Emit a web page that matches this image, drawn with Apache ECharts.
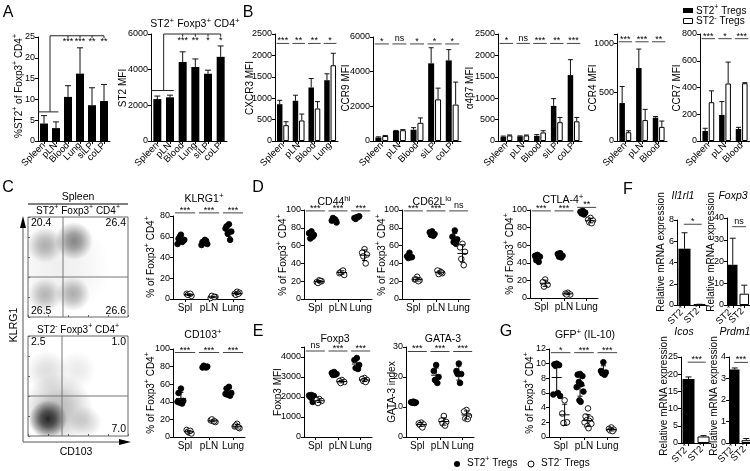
<!DOCTYPE html>
<html><head><meta charset="utf-8">
<script src="https://cdn.jsdelivr.net/npm/echarts@6/dist/echarts.min.js"></script>
<style>html,body{margin:0;padding:0;background:#fff}#c{width:750px;height:471px}</style>
</head><body><div id="c"></div>
<script>
// ================= DATA =================
// Panel A
const aCats = ['Spleen','pLN','Blood','Lung','siLP','coLP'];
const aPctMean = [4.2,3.1,10.6,16.2,8.6,9.6];
const aPctSD   = [1.9,1.5,2.7,6.2,4.2,4.0];
const aPctStars = ['***','***','**','**'];
const aMfiMean = [2350,2450,4430,4150,3770,4720];
const aMfiSD   = [170,120,570,450,200,610];
const aMfiStars = ['***','**','*','*'];
// Panel B
const cxcr3Cats = ['Spleen','pLN','Blood','Lung'];
const cxcr3Pos = [860,940,1250,1420], cxcr3PosSD = [90,130,210,150];
const cxcr3Neg = [370,480,760,1770], cxcr3NegSD = [80,150,160,280];
const cxcr3Stars = ['***','**','**','*'];
const ccr9Cats = ['Spleen','pLN','Blood','siLP','coLP'];
const ccr9Pos = [200,580,650,4480,4650], ccr9PosSD = [40,30,120,900,620];
const ccr9Neg = [290,620,1050,2400,2100], ccr9NegSD = [30,40,280,650,1300];
const ccr9Stars = ['*','ns','*','*','*'];
const a4b7Cats = ['Spleen','pLN','Blood','siLP','coLP'];
const a4b7Pos = [100,110,120,820,1540], a4b7PosSD = [15,10,30,170,360];
const a4b7Neg = [130,130,200,440,460], a4b7NegSD = [10,10,40,110,90];
const a4b7Stars = ['*','ns','***','**','***'];
const ccr4Cats = ['Spleen','pLN','Blood'];
const ccr4Pos = [390,750,240], ccr4PosSD = [170,195,12];
const ccr4Neg = [90,215,145], ccr4NegSD = [15,110,60];
const ccr4Stars = ['***','***','**'];
const ccr7Cats = ['Spleen','pLN','Blood'];
const ccr7Pos = [75,195,90], ccr7PosSD = [20,100,12];
const ccr7Neg = [290,430,432], ccr7NegSD = [85,160,4];
const ccr7Stars = ['***','*','***'];
// Panel C flow density clusters [x%, y%, spread%, density]
const flowTopClusters = [[32,50,100,0.07],[17,72,36,0.32],[46,76,38,0.5],[17,22,34,0.3],[45,23,34,0.33]];
const flowBotClusters = [[30,27,70,0.3],[20,17,38,0.9],[19,65,42,0.14],[49,66,38,0.09],[58,14,32,0.18]];
const flowTopGate = [35,40], flowBotGate = [34,40];
const flowTopPct = ['20.4','26.4','26.5','26.6'];
const flowBotPct = ['2.5','1.0','7.0'];
// Dot plots (ST2+ filled, ST2- open), per category Spl, pLN, Lung
const dotCats = ['Spl','pLN','Lung'];
const klrgPos = [[62,58,56,60,55,53,57],[57,55,53,54,56,52],[72,70,65,63,57,68]];
const klrgNeg = [[4,5,3,4,5],[2,1,2,3,2],[7,5,6,4,5]];
const cd103Pos = [[55,50,41,39,38,40],[80,79,80,81,79],[57,55,50,48,47,49]];
const cd103Neg = [[5,8,4,6,7],[18,19,17,20,18],[15,12,10,13,11]];
const cd44Pos = [[76,74,72,68,70],[90,88,86,91,89],[92,91,93,90,92]];
const cd44Neg = [[21,19,20,18,20],[31,29,27,30,32],[56,52,50,48,40]];
const cd62Pos = [[52,48,47,46,47],[76,75,73,72,71],[77,70,67,64,62]];
const cd62Neg = [[25,22,21,22,20],[31,32,29,28,30],[62,58,53,45,38]];
const ctlaPos = [[49,48,47,43,41],[51,50,48,47,46],[99,98,97,96,95]];
const ctlaNeg = [[21,18,15,13],[6,5,4,4],[91,89,88,86,85]];
const foxpPos = [[2100,2080,2050,2000,1750],[3250,3200,3150,3100,3120],[3950,3850,3600,3450,3400]];
const foxpNeg = [[1900,1850,1800,1700],[2850,2800,2750,2700],[2950,2900,2850,2800,2750]];
const gataPos = [[11.8,11.6,11.5,11.4,11.3],[24,22,20,19,18],[24.5,22,21,21,18]];
const gataNeg = [[4.8,4.5,4.2,4.0,3.2],[7,5.5,5,4.5,3.8],[9,8.5,7,6.2,6]];
const gfpPos = [[10.0,9.9,9.8,9.7,6.0,5.8,5.6],[8.6,8.5,8.3,7.5,7.2,6.8,6.2,5.0,4.8],[10.2,9.0,8.8,8.7,8.5]];
const gfpNeg = [[5.0,3.2,2.0,1.9],[3.9,2.8,2.5,2.3,2.2,2.0,1.8,1.5,1.2],[1.3,1.1,1.0,0.9,0.8]];
const klrgStars=['***','***','***'], cd103Stars=['***','***','***'], cd44Stars=['***','***','***'],
      cd62Stars=['***','***','ns'], ctlaStars=['***','***','**'], foxpStars=['ns','***','***'],
      gataStars=['***','***','***'], gfpStars=['*','***','***'];
// Panel F
const fCats = ['ST2^+','ST2^-'];
const il1rl1Mean = [5.3,0.05], il1rl1SD = [1.5,0.02];
const foxp3FMean = [18.5,5.2], foxp3FSD = [12.2,3.9];
const icosMean = [18.6,1.9], icosSD = [0.6,0.25];
const prdm1Mean = [3.42,0.13], prdm1SD = [0.07,0.08];

// ================= HELPERS =================
const FONT = '"Liberation Sans", Arial, Helvetica, sans-serif';
const grids=[], xAxes=[], yAxes=[], series=[], graphic=[];
function richFor(s){ return {sup:{fontSize:Math.round(s*0.72), fontFamily:FONT, color:'#000', padding:[0,0,Math.round(s*0.7),0]}}; }
function sup(s){ return String(s).replace(/\^([^\s]+)/g, '{sup|$1}'); }
function txt(x,y,s,o={}){
  const size=o.size||10;
  graphic.push({type:'text', x, y, rotation:o.rot||0, silent:true, z:50,
    style:{text:sup(s), fill:'#000', font:`${o.italic?'italic ':''}${size}px ${FONT}`,
      textAlign:o.align||'center', textVerticalAlign:o.va||'middle', rich:richFor(size)}});
}
function gline(x1,y1,x2,y2,c){ graphic.push({type:'line', silent:true, z:50, shape:{x1,y1,x2,y2}, style:{stroke:c||'#000', lineWidth:1}}); }
function addGrid(L,T,W,H){ grids.push({left:L, top:T, width:W, height:H, containLabel:false, outerBoundsMode:'none'}); return grids.length-1; }
function catAxis(gi,cats,rot,fs){
  return {type:'category', gridIndex:gi, data:cats, boundaryGap:true,
    axisLine:{show:true, lineStyle:{color:'#000', width:1}},
    axisTick:{show:true, alignWithLabel:true, length:3, lineStyle:{color:'#000'}},
    axisLabel:{interval:0, rotate:rot, fontSize:fs||9.5, fontFamily:FONT, color:'#000', margin:rot?3:4,
      formatter:v=>sup(v), rich:richFor(fs||9.5)}, splitLine:{show:false}};
}
function valAxis(gi,p){
  const iv=p.interval;
  return {type:'value', gridIndex:gi, min:p.min||0, max:p.max, interval:iv,
    axisLine:{show:true, lineStyle:{color:'#000', width:1}},
    axisTick:{show:true, length:3, lineStyle:{color:'#000'}},
    axisLabel:{fontSize:9, fontFamily:FONT, color:'#000', margin:3,
      formatter:v=>(Math.abs(v/iv-Math.round(v/iv))<1e-6 ? String(v) : '')},
    splitLine:{show:false}};
}
const base = {silent:true, animation:false};
function barPanel(p){
  const gi=addGrid(p.left,p.top,p.width,p.bottom-p.top);
  xAxes.push(catAxis(gi,p.cats,45,p.labelSize));
  yAxes.push(valAxis(gi,p));
  const n=p.groups.length, bw=p.barWidth, gap=p.gap||0.15;
  p.groups.forEach((g,k)=>{
    const data = g.fills ? g.mean.map((v,i)=>({value:v, itemStyle:{color:g.fills[i], borderColor:'#000', borderWidth:g.fills[i]==='#000'?0:1}})) : g.mean;
    series.push({...base, type:'bar', xAxisIndex:gi, yAxisIndex:gi, data, barWidth:bw, barGap:(gap*100)+'%',
      itemStyle:{color:g.fill||'#000', borderColor:'#000', borderWidth:g.fill==='#fff'?1:0}, z:2});
  });
  p.groups.forEach((g,k)=>{
    const off = n===1?0:(k===0?-1:1)*bw*(1+gap)/2;
    const cap = p.cap||2.5;
    series.push({...base, type:'custom', xAxisIndex:gi, yAxisIndex:gi, z:3,
      data:g.mean.map((m,i)=>[i,m,m+g.sd[i]]), encode:{x:0,y:[1,2]},
      renderItem:(params,api)=>{
        const t=api.coord([api.value(0),api.value(2)]), b=api.coord([api.value(0),api.value(1)]);
        const x=t[0]+off;
        return {type:'group', children:[
          {type:'line', shape:{x1:x,y1:b[1],x2:x,y2:t[1]}, style:{stroke:'#111',lineWidth:1}},
          {type:'line', shape:{x1:x-cap,y1:t[1],x2:x+cap,y2:t[1]}, style:{stroke:'#111',lineWidth:1}}]};
      }});
  });
  if(p.stars) annot(gi, p.stars.map((s,i)=>({pair:i, y:p.sigY, s, half:p.sigHalf||0.4})));
  if(p.bracket) annot(gi, p.bracket);
  return gi;
}
// annotation renderer in (category units, value) coordinates
function annot(gi, items){
  series.push({...base, type:'custom', xAxisIndex:gi, yAxisIndex:gi, z:6, clip:false,
    data:[[0,0]], encode:{x:0,y:1},
    renderItem:(params,api)=>{
      const band=api.size([1,0])[0];
      const X=(u)=>api.coord([0,0])[0]+u*band;
      const Y=(v)=>api.coord([0,v])[1];
      const ch=[];
      items.forEach(it=>{
        if(it.pair!==undefined){
          const yy=Y(Array.isArray(it.y)?it.y[it.pair]:it.y);
          const cx = it.center!==undefined ? it.center : it.pair;
          ch.push({type:'line', shape:{x1:X(cx-it.half),y1:yy,x2:X(cx+it.half),y2:yy}, style:{stroke:'#444',lineWidth:1}});
          const isNs = it.s==='ns';
          ch.push({type:'text', x:X(cx), y: isNs? yy-0.5 : yy+2, style:{text:it.s, fill:'#000', font:`9px ${FONT}`, textAlign:'center', textVerticalAlign:'bottom'}});
        } else if(it.t==='line'){
          ch.push({type:'line', shape:{x1:X(it.u1),y1:Y(it.v1),x2:X(it.u2),y2:Y(it.v2)}, style:{stroke:'#222',lineWidth:1}});
        } else if(it.t==='text'){
          ch.push({type:'text', x:X(it.u), y:Y(it.v), style:{text:it.s, fill:'#000', font:`9px ${FONT}`, textAlign:'center', textVerticalAlign:'middle'}});
        }
      });
      return {type:'group', children:ch};
    }});
}
const JIT=[0,-2.4,2.4,-1.2,1.2,-3.4,3.4,-0.6,0.6];
const SEP=0.17;
function dotPanel(p){
  const gi=addGrid(p.left,p.top,p.width,p.bottom-p.top);
  xAxes.push(catAxis(gi,dotCats,0,10));
  yAxes.push(valAxis(gi,p));
  const pts=[], stats=[];
  [p.pos,p.neg].forEach((grp,g)=>grp.forEach((arr,i)=>{
    arr.forEach((v,j)=>pts.push([i,v,g,j]));
    const m=arr.reduce((a,b)=>a+b,0)/arr.length;
    const sd=Math.sqrt(arr.reduce((a,b)=>a+(b-m)*(b-m),0)/(arr.length-1));
    stats.push([i,m,m-sd,m+sd,g]);
  }));
  series.push({...base, type:'custom', xAxisIndex:gi, yAxisIndex:gi, z:4, data:pts, encode:{x:0,y:1},
    renderItem:(params,api)=>{
      const c=api.coord([api.value(0),api.value(1)]), band=api.size([1,0])[0], g=api.value(2), j=api.value(3);
      const x=c[0]+(g?1:-1)*SEP*band+JIT[j%JIT.length];
      return {type:'circle', shape:{cx:x,cy:c[1],r:2.8}, style:{fill:g?'#fff':'#000', stroke:'#000', lineWidth:0.9}};
    }});
  series.push({...base, type:'custom', xAxisIndex:gi, yAxisIndex:gi, z:5, data:stats, encode:{x:0,y:[1,2,3]},
    renderItem:(params,api)=>{
      const band=api.size([1,0])[0], g=api.value(4);
      const m=api.coord([api.value(0),api.value(1)]), lo=api.coord([api.value(0),api.value(2)]), hi=api.coord([api.value(0),api.value(3)]);
      const x=m[0]+(g?1:-1)*SEP*band;
      const st={stroke:'#000',lineWidth:1};
      return {type:'group', children:[
        {type:'line', shape:{x1:x-5,y1:m[1],x2:x+5,y2:m[1]}, style:st},
        {type:'line', shape:{x1:x,y1:lo[1],x2:x,y2:hi[1]}, style:st},
        {type:'line', shape:{x1:x-2.5,y1:lo[1],x2:x+2.5,y2:lo[1]}, style:st},
        {type:'line', shape:{x1:x-2.5,y1:hi[1],x2:x+2.5,y2:hi[1]}, style:st}]};
    }});
  annot(gi, p.stars.map((s,i)=>({pair:i, y:p.sigY, s, half:0.42})));
}
function flowPanel(p){
  const gi=addGrid(p.left,p.top,p.width,p.height);
  grids[gi].show=true; grids[gi].borderColor='#666'; grids[gi].borderWidth=1; grids[gi].backgroundColor='#fff';
  const ax=()=>({type:'value', gridIndex:gi, min:0, max:100, interval:20, axisLine:{show:false},
    axisTick:{show:true, inside:true, length:2, lineStyle:{color:'#666'}}, axisLabel:{show:false}, splitLine:{show:false}});
  xAxes.push(ax()); yAxes.push(ax());
  series.push({...base, type:'custom', xAxisIndex:gi, yAxisIndex:gi, z:2, data:p.clusters, encode:{x:0,y:1},
    renderItem:(params,api)=>{
      const c=api.coord([api.value(0),api.value(1)]), r=api.size([api.value(2),0])[0]/2, a=api.value(3);
      const cs=params.coordSys;
      return {type:'circle', shape:{cx:c[0],cy:c[1],r},
        style:{fill:{type:'radial',x:0.5,y:0.5,r:0.5,colorStops:[
          {offset:0,color:`rgba(20,20,20,${a})`},{offset:0.4,color:`rgba(20,20,20,${a*0.75})`},{offset:1,color:'rgba(20,20,20,0)'}]}},
        clipPath:{type:'rect', shape:{x:cs.x,y:cs.y,width:cs.width,height:cs.height}}};
    }});
  series.push({...base, type:'custom', xAxisIndex:gi, yAxisIndex:gi, z:3, data:[p.gate], encode:{x:0,y:1},
    renderItem:(params,api)=>{
      const c=api.coord([api.value(0),api.value(1)]), cs=params.coordSys;
      const st={stroke:'#777',lineWidth:1};
      return {type:'group', children:[
        {type:'line', shape:{x1:c[0],y1:cs.y,x2:c[0],y2:cs.y+cs.height}, style:st},
        {type:'line', shape:{x1:cs.x,y1:c[1],x2:cs.x+cs.width,y2:c[1]}, style:st}]};
    }});
}
function fPanel(p){
  barPanel({left:p.left, top:p.top, bottom:p.bottom, width:p.width, cats:fCats, min:0, max:p.max, interval:p.interval, barWidth:p.bw, cap:3, labelSize:9.5,
    groups:[{mean:p.mean, sd:p.sd, fills:['#000','#fff']}],
    bracket:[{pair:0, center:0.55, half:0.6, y:p.sigY, s:p.star}]});
}

// ================= PANELS =================
// A
barPanel({left:38, top:37, bottom:141, width:72, cats:aCats, min:0, max:25, interval:5, barWidth:8, cap:3,
  groups:[{mean:aPctMean, sd:aPctSD, fill:'#000'}],
  bracket:[{t:'line',u1:-0.5,v1:7,u2:1.2,v2:7},{t:'line',u1:0.5,v1:7,u2:0.5,v2:25.3},{t:'line',u1:0.5,v1:25.3,u2:5,v2:25.3},
    ...[2,3,4,5].map(i=>({t:'line',u1:i,v1:25.3,u2:i,v2:24.7})),
    ...aPctStars.map((s,k)=>({t:'text',u:k+2,v:23.8,s}))]});
barPanel({left:151, top:34, bottom:141, width:76, cats:aCats, min:0, max:6000, interval:2000, barWidth:8, cap:3,
  groups:[{mean:aMfiMean, sd:aMfiSD, fill:'#000'}],
  bracket:[{t:'line',u1:-0.5,v1:2830,u2:1.3,v2:2830},{t:'line',u1:0.5,v1:2830,u2:0.5,v2:6000},{t:'line',u1:0.5,v1:6000,u2:5,v2:6000},
    ...[2,3,4,5].map(i=>({t:'line',u1:i,v1:6000,u2:i,v2:5850})),
    ...aMfiStars.map((s,k)=>({t:'text',u:k+2,v:5620,s}))]});
// B
barPanel({left:275, top:34, bottom:141, width:63, cats:cxcr3Cats, min:0, max:2500, interval:500, barWidth:5.5,
  groups:[{mean:cxcr3Pos, sd:cxcr3PosSD, fill:'#000'},{mean:cxcr3Neg, sd:cxcr3NegSD, fill:'#fff'}], stars:cxcr3Stars, sigY:2280});
barPanel({left:373, top:37, bottom:141, width:88, cats:ccr9Cats, min:0, max:6000, interval:2000, barWidth:6,
  groups:[{mean:ccr9Pos, sd:ccr9PosSD, fill:'#000'},{mean:ccr9Neg, sd:ccr9NegSD, fill:'#fff'}], stars:ccr9Stars, sigY:5600});
barPanel({left:498, top:34, bottom:141, width:84, cats:a4b7Cats, min:0, max:2500, interval:500, barWidth:5.5,
  groups:[{mean:a4b7Pos, sd:a4b7PosSD, fill:'#000'},{mean:a4b7Neg, sd:a4b7NegSD, fill:'#fff'}], stars:a4b7Stars, sigY:2280});
barPanel({left:617, top:34, bottom:141, width:50, cats:ccr4Cats, min:0, max:1100, interval:500, barWidth:5.5,
  groups:[{mean:ccr4Pos, sd:ccr4PosSD, fill:'#000'},{mean:ccr4Neg, sd:ccr4NegSD, fill:'#fff'}], stars:ccr4Stars, sigY:1020});
barPanel({left:700, top:34, bottom:141, width:50, cats:ccr7Cats, min:0, max:800, interval:200, barWidth:5.5,
  groups:[{mean:ccr7Pos, sd:ccr7PosSD, fill:'#000'},{mean:ccr7Neg, sd:ccr7NegSD, fill:'#fff'}], stars:ccr7Stars, sigY:765});
// C flow
flowPanel({left:28, top:217, width:100, height:100, clusters:flowTopClusters, gate:flowTopGate});
flowPanel({left:28, top:336, width:100, height:100, clusters:flowBotClusters, gate:flowBotGate});
// C dots
dotPanel({left:173, top:216, bottom:299, width:72, min:0, max:80, interval:20, pos:klrgPos, neg:klrgNeg, stars:klrgStars, sigY:83});
dotPanel({left:173, top:349, bottom:437, width:72, min:0, max:100, interval:20, pos:cd103Pos, neg:cd103Neg, stars:cd103Stars, sigY:96});
// D
dotPanel({left:304, top:210, bottom:299, width:68, min:0, max:100, interval:20, pos:cd44Pos, neg:cd44Neg, stars:cd44Stars, sigY:99});
dotPanel({left:402, top:210, bottom:299, width:68, min:0, max:100, interval:20, pos:cd62Pos, neg:cd62Neg, stars:cd62Stars, sigY:99});
dotPanel({left:530, top:210, bottom:298, width:68, min:0, max:100, interval:20, pos:ctlaPos, neg:ctlaNeg, stars:ctlaStars, sigY:[99,99,103]});
// E
dotPanel({left:304, top:347, bottom:437, width:68, min:0, max:4500, interval:1000, pos:foxpPos, neg:foxpNeg, stars:foxpStars, sigY:4300});
dotPanel({left:406, top:347, bottom:437, width:68, min:0, max:30, interval:10, pos:gataPos, neg:gataNeg, stars:gataStars, sigY:28.5});
// G
dotPanel({left:549, top:349, bottom:437, width:70, min:0, max:12, interval:2, pos:gfpPos, neg:gfpNeg, stars:gfpStars, sigY:11.5});
// F
fPanel({left:677, top:220, bottom:305, width:30, bw:12, max:8, interval:2, mean:il1rl1Mean, sd:il1rl1SD, sigY:7.6, star:'*'});
fPanel({left:727, top:218, bottom:305, width:23, bw:9.5, max:40, interval:10, mean:foxp3FMean, sd:foxp3FSD, sigY:36, star:'ns'});
fPanel({left:681, top:357, bottom:443, width:30, bw:12, max:25, interval:5, mean:icosMean, sd:icosSD, sigY:23.5, star:'***'});
fPanel({left:729, top:357, bottom:443, width:23, bw:9.5, max:4, interval:1, mean:prdm1Mean, sd:prdm1SD, sigY:3.75, star:'***'});

// ================= TEXT / DECORATION =================
[['A',8,13],['B',248,13],['C',8,188],['D',258,188],['E',258,332],['F',628,190],['G',506,332]].forEach(([l,x,y])=>txt(x,y,l,{size:16}));
// y-axis names
const yNames = [
  ['%ST2^+ of Foxp3^+ CD4^+',19,86],['ST2 MFI',123,88],['CXCR3 MFI',250,88],['CCR9 MFI',346,88],['α4β7 MFI',470,88],
  ['CCR4 MFI',593,88],['CCR7 MFI',677,88],['% of Foxp3^+ CD4^+',151,257],['% of Foxp3^+ CD4^+',151,393],
  ['% of Foxp3^+ CD4^+',283,255],['% of Foxp3^+ CD4^+',382,255],['% of Foxp3^+ CD4^+',510,254],
  ['Foxp3 MFI',278,392],['GATA-3 index',392,392],['% of Foxp3^+ CD4^+',530,393],
  ['Relative mRNA expression',661,252],['Relative mRNA expression',711,252],['Relative mRNA expression',664,396],['Relative mRNA expression',714,396]];
yNames.forEach(([s,x,y])=>txt(x,y,s,{size:10,rot:Math.PI/2}));
// titles
[['ST2^+ Foxp3^+ CD4^+',195,24],['KLRG1^+',204,199],['CD103^+',203,335],['CD44^hi',334,202],['CD62L^lo',432,202],
 ['CTLA-4^+',563,200],['Foxp3',335,339],['GATA-3',443,339],['GFP^+ (IL-10)',585,335]].forEach(([s,x,y])=>txt(x,y,s,{size:10.5}));
[['Il1rl1',683,196],['Foxp3',733,196],['Icos',684,332],['Prdm1',735,332]].forEach(([s,x,y])=>txt(x,y,s,{size:10.5,italic:true}));
// flow annotations
txt(78,197,'Spleen',{size:10.5}); gline(28,204,128,204);
txt(78,211,'ST2^+ Foxp3^+ CD4^+',{size:10}); txt(78,330,'ST2^- Foxp3^+ CD4^+',{size:10});
txt(31,223,flowTopPct[0],{size:10.5,align:'left'}); txt(126,223,flowTopPct[1],{size:10.5,align:'right'});
txt(31,311,flowTopPct[2],{size:10.5,align:'left'}); txt(126,311,flowTopPct[3],{size:10.5,align:'right'});
txt(31,342,flowBotPct[0],{size:10.5,align:'left'}); txt(126,342,flowBotPct[1],{size:10.5,align:'right'});
txt(126,429,flowBotPct[2],{size:10.5,align:'right'});
gline(23,442,120,442,'#555'); gline(23,442,23,226,'#555');
graphic.push({type:'polygon', silent:true, z:50, shape:{points:[[23,216],[20,228],[26,228]]}, style:{fill:'#000'}});
graphic.push({type:'polygon', silent:true, z:50, shape:{points:[[131,442],[119,439],[119,445]]}, style:{fill:'#000'}});
txt(14,325,'KLRG1',{size:10.5,rot:Math.PI/2}); txt(76,452,'CD103',{size:10.5});
// legend B
graphic.push({type:'rect', silent:true, z:50, shape:{x:683,y:8,width:10,height:5}, style:{fill:'#000'}});
graphic.push({type:'rect', silent:true, z:50, shape:{x:683.5,y:18.5,width:9,height:5}, style:{fill:'#fff',stroke:'#000',lineWidth:1}});
txt(696,11,'ST2^+ Tregs',{size:10,align:'left'}); txt(696,21.5,'ST2^- Tregs',{size:10,align:'left'});
// bottom legend
graphic.push({type:'circle', silent:true, z:50, shape:{cx:457,cy:464,r:3}, style:{fill:'#000'}});
graphic.push({type:'circle', silent:true, z:50, shape:{cx:531,cy:464,r:3}, style:{fill:'#fff',stroke:'#000',lineWidth:1}});
txt(467,463,'ST2^+ Tregs',{size:10,align:'left'}); txt(541,463,'ST2^- Tregs',{size:10,align:'left'});

const chart = echarts.init(document.getElementById('c'), null, {renderer:'canvas', width:750, height:471});
chart.setOption({animation:false, backgroundColor:'#fff', grid:grids, xAxis:xAxes, yAxis:yAxes, series, graphic:{elements:graphic}});
</script>
</body></html>
